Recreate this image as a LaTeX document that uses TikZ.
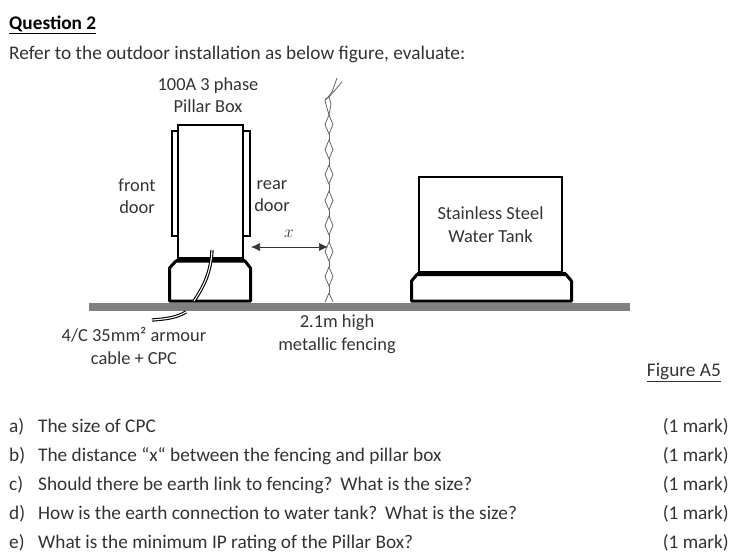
\documentclass[tikz,border=0pt]{standalone}
\usepackage{fontspec}
\setmainfont{Carlito}
\usepackage{tikz}
\usetikzlibrary{arrows.meta, positioning}
\definecolor{inkgrey}{gray}{0.2}
\definecolor{groundgrey}{gray}{0.5}
\tikzset{
    lbl/.style={text=inkgrey, font=\fontsize{18.4}{22.5}\selectfont, inner sep=0pt, align=center},
    qtext/.style={text=inkgrey, font=\fontsize{19.3}{23}\selectfont, inner sep=0pt, anchor=base west},
    markstyle/.style={qtext, anchor=base east},
    structure/.style={black, line width=3pt, line join=round},
    strand/.style={black!60, line width=0.8pt},
    cable/.style={black, line width=1.1pt, double=white, double distance=1.1pt}
}
\begin{document}
\begin{tikzpicture}[x=1pt,y=-1pt]
    \useasboundingbox (0,0) rectangle (738,555);

    % Heading
    \node[qtext, font=\fontsize{19.3}{23}\selectfont\bfseries, text=black] (title) at (9,29) {\underline{Question 2}};
    \node[qtext] (intro) at (9,59) {Refer to the outdoor installation as below figure, evaluate:};

    % Ground
    \fill[groundgrey] (89,302.5) rectangle (630,310.5);

    % Pillar box on the left
    \draw[black, line width=2pt] (171.5,131) rectangle (178,236);
    \draw[black, line width=2pt] (243,131) rectangle (249.5,236);
    \draw[black, line width=2.2pt, fill=white] (178,125) rectangle (243,258);
    \draw[structure] (169.5,301) -- (169.5,268) -- (176,261) -- (245,261) -- (250.5,268) -- (250.5,301) -- cycle;
    \draw[black, line width=2pt] (176,259.5) -- (245,259.5);

    % Armour cable
    \draw[cable] (212,250) .. controls (211,272) and (204,286) .. (194,301);
    \draw[cable] (186,312) .. controls (176,318) and (165,319) .. (152,320);

    % Fencing
    \foreach \yy in {115,140,165,191,216,242,267} {
        \draw[strand] (329,\yy) -- ++(-4,9.5) -- ++(4,9.5) -- ++(4,-9.5) -- cycle;
        \draw[strand] (329,\yy+19) -- ++(0,6.5);
    }
    \draw[strand] (329,115) -- (325,101) -- (332,92) -- (337,78);
    \draw[strand] (329,115) -- (331,104) -- (329,97) -- (325,99);
    \draw[strand] (329,97) -- (342,82);
    \draw[strand] (329,293) -- (325,302);
    \draw[strand] (329,293) -- (333,302);

    % Distance x
    \coordinate (gapl) at (251,247);
    \coordinate (gapr) at (328,247);
    \draw[{Latex[length=9pt,width=8pt]}-{Latex[length=9pt,width=8pt]}, black!80, line width=0.7pt] (gapl) -- (gapr);
    \node[text=inkgrey, inner sep=0pt, font=\fontsize{18}{20}\selectfont] (xlbl) at (289,234) {$x$};

    % Water tank on the right
    \node[draw=black, line width=2.2pt, lbl, minimum width=143pt, minimum height=95pt] (tank) at (490.5,224.5) {Stainless Steel\\Water Tank};
    \draw[structure] (411.5,301) -- (411.5,281) -- (417,274.5) -- (566,274.5) -- (571.5,281) -- (571.5,301) -- cycle;
    \draw[black, line width=2pt] (417,272.5) -- (566,272.5);

    % Labels
    \node[lbl] (boxlbl) at (208,95) {100A 3 phase\\Pillar Box};
    \node[lbl] (frontlbl) at (137,196) {front\\door};
    \node[lbl] (rearlbl) at (272,196) {rear\\door};
    \node[lbl] (cablelbl) at (134,346) {4/C 35mm² armour\\cable + CPC};
    \node[lbl] (fencelbl) at (337,334) {2.1m high\\metallic fencing};
    \node[markstyle] (figlbl) at (721,376) {\underline{Figure A5}};

    % Questions
    \foreach \nm/\txt/\yy in {a/{The size of CPC}/432,
        b/{The distance “x“ between the fencing and pillar box}/461,
        c/{Should there be earth link to fencing?\hspace{2pt} What is the size?}/490,
        d/{How is the earth connection to water tank?\hspace{2pt} What is the size?}/519,
        e/{What is the minimum IP rating of the Pillar Box?}/548} {
        \node[qtext] (q\nm) at (9,\yy) {\nm)};
        \node[qtext] (t\nm) at (38,\yy) {\txt};
        \node[markstyle] (m\nm) at (729,\yy) {(1 mark)};
    }

\end{tikzpicture}
\end{document}
